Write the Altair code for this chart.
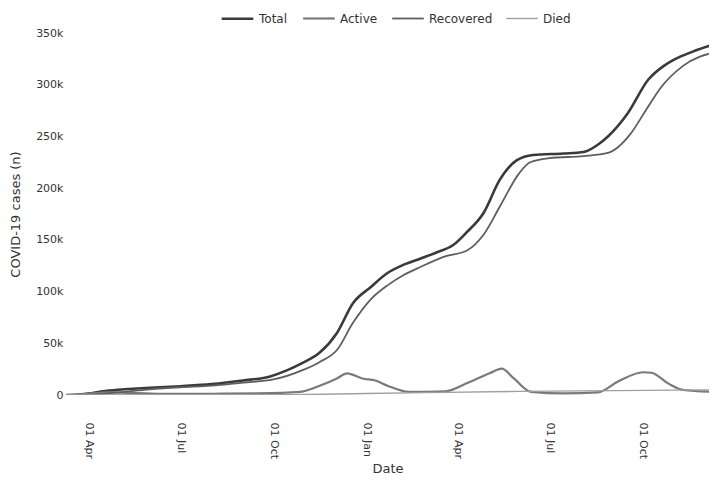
import altair as alt
import pandas as pd

series_order = ["Total", "Active", "Recovered", "Died"]

total_dates = ["2020-03-10","2020-03-20","2020-04-01","2020-04-15","2020-05-01","2020-05-15","2020-06-01","2020-07-01","2020-08-01","2020-09-01","2020-09-28","2020-10-15","2020-10-30","2020-11-16","2020-12-03","2020-12-19","2021-01-05","2021-01-22","2021-02-07","2021-02-24","2021-03-12","2021-03-28","2021-04-10","2021-04-27","2021-05-13","2021-05-30","2021-06-15","2021-07-15","2021-08-04","2021-08-18","2021-08-28","2021-09-17","2021-10-07","2021-10-22","2021-11-01","2021-11-20","2021-12-14"]
total_vals = [0,300,1500,3500,5000,6000,7000,8500,10500,14000,18000,24000,31000,41000,60000,89000,104000,118000,126000,132000,138000,145000,157000,176000,208000,227000,232000,233500,235000,242000,250000,273000,305000,318000,324000,332000,340000]

active_dates = ["2020-03-10","2020-04-01","2020-04-20","2020-05-15","2020-06-15","2020-08-01","2020-09-15","2020-10-28","2020-11-16","2020-12-03","2020-12-13","2020-12-28","2021-01-10","2021-01-22","2021-02-12","2021-03-20","2021-04-12","2021-05-03","2021-05-15","2021-05-27","2021-06-13","2021-07-15","2021-08-18","2021-09-07","2021-10-02","2021-10-10","2021-10-27","2021-11-10","2021-12-14"]
active_vals = [0,1200,2500,2000,1000,1200,1500,3000,9000,16000,21000,16000,14000,9000,3000,3500,12000,21000,25500,16000,3000,1500,2500,13000,22000,21500,11000,5000,3000]

recovered_dates = ["2020-03-10","2020-04-01","2020-05-01","2020-06-01","2020-07-01","2020-08-01","2020-09-01","2020-10-01","2020-10-30","2020-11-16","2020-12-03","2020-12-19","2021-01-05","2021-01-22","2021-02-07","2021-02-24","2021-03-20","2021-04-11","2021-04-27","2021-05-13","2021-06-01","2021-06-12","2021-07-01","2021-08-04","2021-08-28","2021-09-19","2021-10-05","2021-10-20","2021-11-10","2021-12-14"]
recovered_vals = [0,200,2500,5500,7500,9000,12000,15000,24000,32000,43500,70000,92000,106000,116000,124000,134000,140000,155000,182000,214000,225000,229000,231000,234000,252000,276000,298000,318000,332000]

died_dates = ["2020-03-10","2020-06-01","2020-10-01","2021-01-01","2021-06-01","2021-12-14"]
died_vals = [0,200,300,1500,3500,5000]

rows = []
for name, ds, vs in [("Total", total_dates, total_vals), ("Active", active_dates, active_vals),
                     ("Recovered", recovered_dates, recovered_vals), ("Died", died_dates, died_vals)]:
    for d, v in zip(ds, vs):
        rows.append({"Date": d, "Cases": v, "Series": name})
df = pd.DataFrame(rows)

font = "DejaVu Sans"
txt = "#333333"

legend_cfg = dict(orient="none", legendX=154, legendY=-32, direction="horizontal",
                  symbolType="stroke", symbolSize=1000, labelFontSize=12, labelOffset=4,
                  labelFont=font, labelColor=txt, columnPadding=10)

chart = alt.Chart(df).mark_line(interpolate="monotone", clip=True).encode(
    x=alt.X("Date:T", title="Date",
            scale=alt.Scale(domain=["2020-03-10", "2021-12-06"]),
            axis=alt.Axis(format="%d %b", labelAngle=90, tickCount={"interval": "month", "step": 3},
                          grid=False, domain=False, ticks=False, labelPadding=27,
                          labelFontSize=11, titleFontSize=13, titlePadding=4, titleFontWeight="normal",
                          labelColor=txt, titleColor=txt, labelFont=font, titleFont=font)),
    y=alt.Y("Cases:Q", title="COVID-19 cases (n)",
            scale=alt.Scale(domain=[0, 350000], nice=False),
            axis=alt.Axis(values=[0,50000,100000,150000,200000,250000,300000,350000],
                          labelExpr="datum.value == 0 ? '0' : (datum.value/1000) + 'k'",
                          grid=False, domain=False, ticks=False, labelPadding=3,
                          labelFontSize=11, titleFontSize=13, titlePadding=13, titleFontWeight="normal",
                          labelColor=txt, titleColor=txt, labelFont=font, titleFont=font)),
    color=alt.Color("Series:N", sort=series_order, title=None,
                    scale=alt.Scale(domain=series_order, range=["#3a3a3a", "#7a7a7a", "#5e5e5e", "#a0a0a0"]),
                    legend=alt.Legend(**legend_cfg)),
    strokeWidth=alt.StrokeWidth("Series:N", sort=series_order, title=None,
                                scale=alt.Scale(domain=series_order, range=[2.6, 1.4, 2.6, 2.0]),
                                legend=alt.Legend(**legend_cfg)),
).properties(width=643, height=362,
             autosize=alt.AutoSizeParams(type="none"),
             padding={"left": 58, "top": 25, "right": 0, "bottom": 80}
).configure_view(stroke=None)

chart.save("out.html", embed_options={"renderer": "svg", "actions": False})
